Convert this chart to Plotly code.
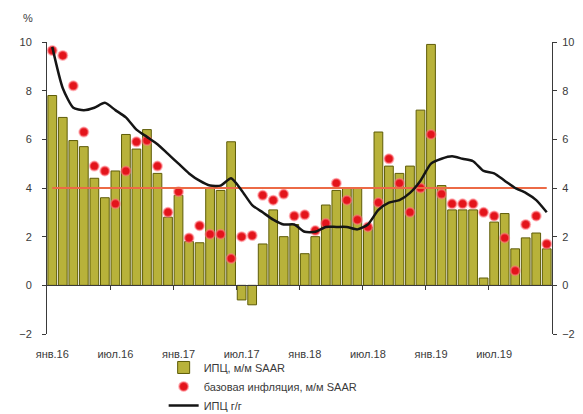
import plotly.graph_objects as go

# ---- data (Jan 2016 .. Dec 2019, monthly) ----
MONTH_ABBR = ["янв", "фев", "мар", "апр", "май", "июн", "июл", "авг", "сен", "окт", "ноя", "дек"]
YEARS = ["16", "17", "18", "19"]
months = [f"{m}.{y}" for y in YEARS for m in MONTH_ABBR]

cpi_mm_saar = [7.8, 6.9, 5.95, 5.7, 4.4, 3.6, 4.7, 6.2, 5.6, 6.4, 4.6, 2.8,
               3.7, 1.8, 1.75, 4.0, 3.9, 5.9, -0.6, -0.8, 1.7, 3.1, 2.0, 2.5,
               1.3, 2.0, 3.3, 3.9, 4.0, 4.0, 2.4, 6.3, 4.9, 4.6, 4.9, 7.2,
               9.9, 4.1, 3.1, 3.1, 3.1, 0.3, 2.6, 2.95, 1.5, 1.95, 2.15, 1.5]

core_mm_saar = [9.65, 9.45, 8.2, 6.3, 4.9, 4.7, 3.35, 4.7, 5.9, 5.95, 4.9, 3.0,
                3.85, 1.95, 2.45, 2.1, 2.1, 1.1, 2.0, 2.05, 3.7, 3.5, 3.75, 2.85,
                2.9, 2.25, 2.55, 4.2, 3.5, 2.7, 2.4, 3.4, 5.2, 4.2, 3.0, 4.0,
                6.2, 3.75, 3.35, 3.35, 3.35, 3.0, 2.85, 1.95, 0.6, 2.5, 2.85, 1.7]

cpi_yy = [9.8, 8.1, 7.3, 7.2, 7.3, 7.5, 7.2, 6.9, 6.4, 6.1, 5.8, 5.4,
          5.0, 4.6, 4.3, 4.1, 4.1, 4.4, 3.9, 3.3, 3.0, 2.7, 2.5, 2.5,
          2.2, 2.2, 2.4, 2.4, 2.4, 2.3, 2.5, 3.1, 3.4, 3.5, 3.8, 4.3,
          5.0, 5.2, 5.3, 5.2, 5.1, 4.7, 4.6, 4.3, 4.0, 3.8, 3.5, 3.0]

target = [4.0] * len(months)

tick_labels = ["янв.16", "июл.16", "янв.17", "июл.17", "янв.18", "июл.18", "янв.19", "июл.19"]
y_ticks = [-2, 0, 2, 4, 6, 8, 10]

x = list(range(len(months)))
tick_pos = [months.index(t) for t in tick_labels]

FONT = "Liberation Sans, Arial, sans-serif"
TXT = "#3a3a3a"

fig = go.Figure()

fig.add_trace(go.Bar(
    x=x, y=cpi_mm_saar, name="ИПЦ, м/м SAAR",
    marker=dict(color="#b8b23a", line=dict(color="#5e5c08", width=1)),
    legendrank=1,
))

fig.add_trace(go.Scatter(
    x=x, y=target, mode="lines", yaxis="y2",
    line=dict(color="#ec6a46", width=2), showlegend=False, hoverinfo="skip",
))

fig.add_trace(go.Scatter(
    x=x, y=cpi_yy, mode="lines", name="ИПЦ г/г", xaxis="x2",
    line=dict(color="#151515", width=2.5, shape="spline", smoothing=0.6),
    legendrank=3,
))

fig.add_trace(go.Scatter(
    x=x, y=core_mm_saar, mode="markers", name="базовая инфляция, м/м SAAR",
    marker=dict(color="#e3141b", size=9, line=dict(color="rgba(255,120,130,0.55)", width=2)),
    legendrank=2,
))

ymin, ymax = y_ticks[0], y_ticks[-1]
xr = [-0.5, len(months) - 0.5]

# page body adds an 8px offset; figure is sized/margined to compensate
fig.update_layout(
    width=575, height=406,
    margin=dict(l=39, r=31, t=34, b=80, autoexpand=False),
    paper_bgcolor="white", plot_bgcolor="white",
    font=dict(family=FONT, size=11, color=TXT),
    bargap=0.17,
    showlegend=True,
    legend=dict(
        x=0.231, y=-0.065, xanchor="left", yanchor="top",
        orientation="v", font=dict(size=11, color=TXT),
        bgcolor="rgba(0,0,0,0)", tracegroupgap=0, itemwidth=30,
    ),
    xaxis=dict(
        range=xr, tickmode="array", tickvals=tick_pos, ticktext=tick_labels,
        showline=False, ticks="", showgrid=False, zeroline=False,
        ticklabelstandoff=12, tickfont=dict(size=11, color=TXT),
    ),
    xaxis2=dict(
        range=xr, overlaying="x", anchor="free",
        position=(0 - ymin) / (ymax - ymin),
        showline=True, linecolor="#3a3a3a", linewidth=1,
        tickmode="array", tickvals=[p - 0.5 for p in tick_pos[1:]],
        ticks="outside", ticklen=4, tickcolor="#3a3a3a",
        showticklabels=False, showgrid=False, zeroline=False,
    ),
    yaxis=dict(
        range=[ymin, ymax], tickvals=y_ticks, showgrid=False, zeroline=False,
        showline=True, linecolor="#3a3a3a", linewidth=1,
        ticks="outside", ticklen=4, tickcolor="#3a3a3a",
        ticklabelstandoff=8, tickfont=dict(size=11, color=TXT),
    ),
    yaxis2=dict(
        range=[ymin, ymax], tickvals=y_ticks, overlaying="y", side="right",
        showgrid=False, zeroline=False,
        showline=True, linecolor="#3a3a3a", linewidth=1,
        ticks="outside", ticklen=4, tickcolor="#3a3a3a",
        ticklabelstandoff=3, tickfont=dict(size=11, color=TXT),
    ),
    annotations=[dict(
        text="%", xref="paper", yref="paper", x=-0.038, y=1.082,
        xanchor="center", yanchor="middle", showarrow=False,
        font=dict(size=11, color=TXT),
    )],
)

fig.write_html("out.html")
